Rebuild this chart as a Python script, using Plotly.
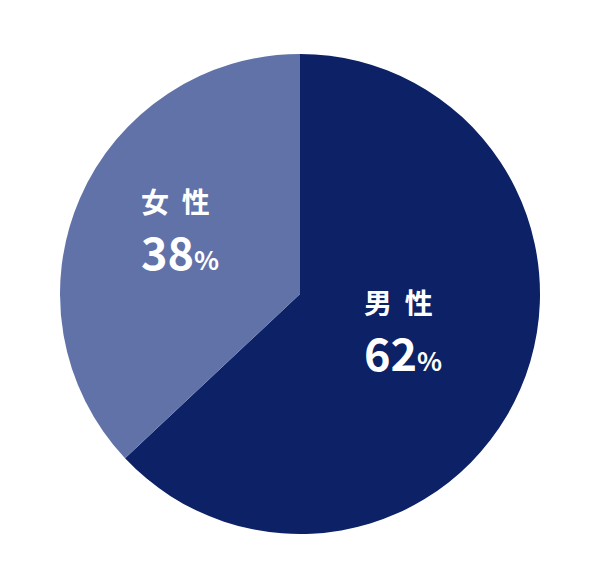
import math
import plotly.graph_objects as go

labels = ["男性", "女性"]
display = ["男&nbsp;&nbsp;性", "女&nbsp;&nbsp;性"]
values = [63.0, 37.0]      # slice sizes as drawn in the picture
pct_text = [62, 38]        # percentages printed on the slices
colors = ["#0c2166", "#6172a9"]

fig = go.Figure(go.Pie(
    labels=labels,
    values=values,
    marker=dict(colors=colors, line=dict(width=0)),
    sort=False,
    direction="clockwise",
    rotation=0,
    textinfo="none",
    hoverinfo="label",
    showlegend=False,
))

# place labels near the middle angle of each slice
total = sum(pct_text)
start = 0
radii = [0.23, 0.27]
lift = [0.017, 0.043]
for name, v, r, dy in zip(display, pct_text, radii, lift):
    mid = (start + v / 2) / total * 2 * math.pi
    start += v
    cx = 0.5 + r * math.sin(mid)
    cy = 0.5 + r * math.cos(mid) + dy
    fig.add_annotation(x=cx - 0.085, y=cy + 0.052, xref="paper", yref="paper",
                       xanchor="left", yanchor="middle", showarrow=False,
                       text="<b>%s</b>" % name,
                       font=dict(family="Noto Sans CJK JP", size=28, color="white"))
    fig.add_annotation(x=cx - 0.085, y=cy - 0.052, xref="paper", yref="paper",
                       xanchor="left", yanchor="middle", showarrow=False,
                       text="<b>%d</b><b style='font-size:26px'>%%</b>" % v,
                       font=dict(family="Noto Sans CJK JP", size=45, color="white"))

fig.update_layout(
    width=600, height=588,
    margin=dict(l=52, r=68, t=46, b=62),
    paper_bgcolor="white",
)
fig.write_html("out.html")
